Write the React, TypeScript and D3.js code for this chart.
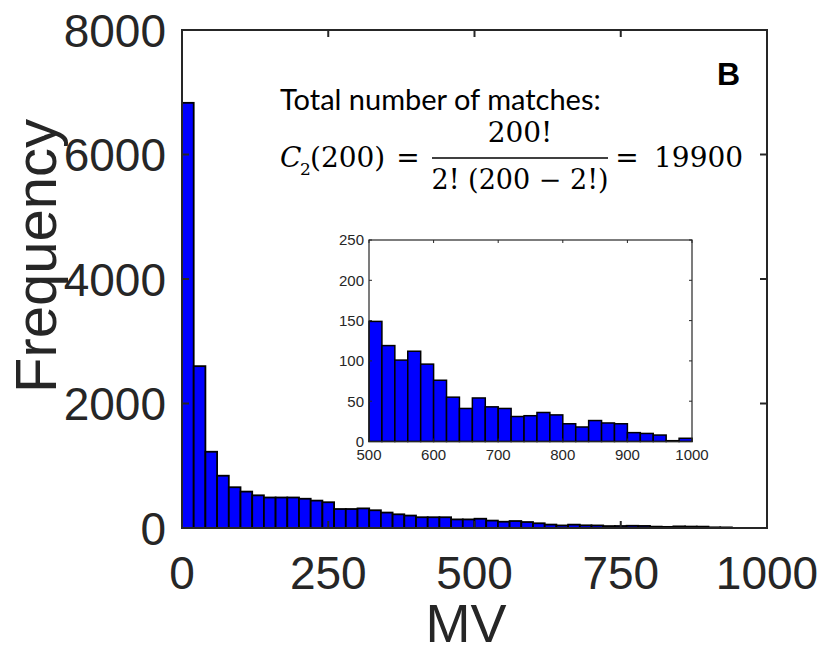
import React from "react";
import * as d3 from "d3";

// ---- data ----
const binWidth = 20;
// main histogram counts, bins of 20 starting at 0 (0..940)
const mainCounts = [
  6830, 2600, 1225, 840, 655, 585, 525, 490, 490, 490,
  470, 440, 414, 305, 305, 315, 285, 248, 220, 200,
  173, 173, 173, 138, 138,
  149, 119, 101, 112, 96, 76, 55, 41, 54, 43,
  41, 31, 32, 36, 33, 22, 18, 26, 23, 22, 11, 10,
];
// inset histogram counts, bins of 20 from 500 to 1000
const insetStart = 500;
const insetCounts = [
  149, 119, 101, 112, 96, 76, 55, 41, 54, 43,
  41, 31, 32, 36, 33, 22, 18, 26, 23, 22,
  11, 10, 8, 1, 4,
];
const mainXTicks = [0, 250, 500, 750, 1000];
const mainYTicks = [0, 2000, 4000, 6000, 8000];
const insetXTicks = [500, 600, 700, 800, 900, 1000];
const insetYTicks = [0, 50, 100, 150, 200, 250];

const W = 819;
const H = 653;
const axisColor = "#262626";
const barFill = "#0000ff";

export default function App() {
  const x = d3.scaleLinear().domain([0, 1000]).range([182, 767]);
  const y = d3.scaleLinear().domain([0, 8000]).range([528, 30]);

  const xi = d3.scaleLinear().domain([500, 1000]).range([369, 692]);
  const yi = d3.scaleLinear().domain([0, 250]).range([441.5, 240]);

  const sans = "'Liberation Sans', Arial, Helvetica, sans-serif";
  const serif = "'DejaVu Serif', 'Liberation Serif', serif";

  return (
    <svg
      width={W}
      height={H}
      style={{ position: "absolute", left: 0, top: 0, background: "#fff" }}
    >
      {/* main bars */}
      <g>
        {mainCounts.map((c, i) => (
          <rect
            key={i}
            x={x(i * binWidth)}
            y={y(c)}
            width={x((i + 1) * binWidth) - x(i * binWidth)}
            height={y(0) - y(c)}
            fill={barFill}
            stroke="#000"
            strokeWidth={1.8}
          />
        ))}
      </g>
      {/* main frame */}
      <rect
        x={x(0)}
        y={y(8000)}
        width={x(1000) - x(0)}
        height={y(0) - y(8000)}
        fill="none"
        stroke={axisColor}
        strokeWidth={2}
      />
      {/* main ticks */}
      {mainYTicks.map((t) => (
        <g key={"yt" + t}>
          <line x1={x(0)} x2={x(0) + 7} y1={y(t)} y2={y(t)} stroke={axisColor} strokeWidth={2} />
          <line x1={x(1000)} x2={x(1000) - 7} y1={y(t)} y2={y(t)} stroke={axisColor} strokeWidth={2} />
          <text
            x={166}
            y={y(t)}
            dy="0.36em"
            textAnchor="end"
            fontFamily={sans}
            fontSize={46}
            fill={axisColor}
          >
            {t}
          </text>
        </g>
      ))}
      {mainXTicks.map((t) => (
        <g key={"xt" + t}>
          <line x1={x(t)} x2={x(t)} y1={y(0)} y2={y(0) - 7} stroke={axisColor} strokeWidth={2} />
          <line x1={x(t)} x2={x(t)} y1={y(8000)} y2={y(8000) + 7} stroke={axisColor} strokeWidth={2} />
          <text
            x={x(t)}
            y={589}
            textAnchor="middle"
            fontFamily={sans}
            fontSize={46}
            fill={axisColor}
          >
            {t}
          </text>
        </g>
      ))}
      <text
        x={466}
        y={642}
        textAnchor="middle"
        fontFamily={sans}
        fontSize={54}
        fill={axisColor}
      >
        MV
      </text>
      <text
        transform={`translate(56, 256) rotate(-90)`}
        textAnchor="middle"
        fontFamily={sans}
        fontSize={58}
        fill={axisColor}
      >
        Frequency
      </text>

      {/* annotation */}
      <text x={717} y={85} fontFamily={sans} fontWeight="bold" fontSize={32} fill="#000">
        B
      </text>
      <text x={280} y={110} fontFamily="Lato, 'Open Sans', sans-serif" fontSize={29} fill="#000">
        Total number of matches:
      </text>
      <g fontFamily={serif} fill="#000">
        <text x={280} y={167} fontSize={28} fontStyle="italic">C</text>
        <text x={300} y={175} fontSize={17}>2</text>
        <text x={310} y={167} fontSize={28}>(200)</text>
        <text x={408} y={167} fontSize={28} textAnchor="middle">=</text>
        <line x1={432} x2={608} y1={158} y2={158} stroke="#000" strokeWidth={1.6} />
        <text x={520} y={142} fontSize={28} textAnchor="middle">200!</text>
        <text x={520} y={189} fontSize={27} textAnchor="middle">2! (200 − 2!)</text>
        <text x={627} y={167} fontSize={28} textAnchor="middle">=</text>
        <text x={654} y={167} fontSize={28}>19900</text>
      </g>

      {/* inset */}
      <rect
        x={xi(500)}
        y={yi(250)}
        width={xi(1000) - xi(500)}
        height={yi(0) - yi(250)}
        fill="#fff"
      />
      {insetCounts.map((c, i) => (
        <rect
          key={"ib" + i}
          x={xi(insetStart + i * binWidth)}
          y={yi(c)}
          width={xi(insetStart + (i + 1) * binWidth) - xi(insetStart + i * binWidth)}
          height={yi(0) - yi(c)}
          fill={barFill}
          stroke="#000"
          strokeWidth={1.5}
        />
      ))}
      <rect
        x={xi(500)}
        y={yi(250)}
        width={xi(1000) - xi(500)}
        height={yi(0) - yi(250)}
        fill="none"
        stroke={axisColor}
        strokeWidth={1.2}
      />
      {insetYTicks.map((t) => (
        <g key={"iyt" + t}>
          <line x1={xi(500)} x2={xi(500) + 3} y1={yi(t)} y2={yi(t)} stroke={axisColor} strokeWidth={1} />
          <line x1={xi(1000)} x2={xi(1000) - 3} y1={yi(t)} y2={yi(t)} stroke={axisColor} strokeWidth={1} />
          <text
            x={xi(500) - 5}
            y={yi(t)}
            dy="0.36em"
            textAnchor="end"
            fontFamily={sans}
            fontSize={15}
            fill={axisColor}
          >
            {t}
          </text>
        </g>
      ))}
      {insetXTicks.map((t) => (
        <g key={"ixt" + t}>
          <line x1={xi(t)} x2={xi(t)} y1={yi(0)} y2={yi(0) - 3} stroke={axisColor} strokeWidth={1} />
          <line x1={xi(t)} x2={xi(t)} y1={yi(250)} y2={yi(250) + 3} stroke={axisColor} strokeWidth={1} />
          <text
            x={xi(t)}
            y={460}
            textAnchor="middle"
            fontFamily={sans}
            fontSize={15}
            fill={axisColor}
          >
            {t}
          </text>
        </g>
      ))}
    </svg>
  );
}
